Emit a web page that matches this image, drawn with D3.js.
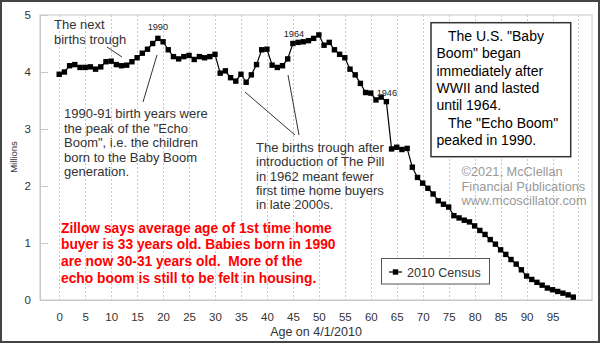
<!DOCTYPE html>
<html>
<head>
<meta charset="utf-8">
<script src="https://cdn.jsdelivr.net/npm/d3@7"></script>
<style>
  html, body { margin: 0; padding: 0; background: #fff; }
  svg { display: block; font-family: Arial, "Liberation Sans", sans-serif; }
</style>
</head>
<body>
<svg id="chart" width="600" height="343"></svg>
<script>
// US population by single year of age, 2010 Census (millions)
const ages = d3.range(0, 100);
const population = [
  3.96, 4.00, 4.11, 4.13, 4.08, 4.08, 4.09, 4.05, 4.09, 4.18,
  4.19, 4.13, 4.11, 4.12, 4.18, 4.25, 4.33, 4.40, 4.50, 4.59,
  4.53, 4.39, 4.27, 4.23, 4.27, 4.29, 4.22, 4.27, 4.25, 4.27,
  4.31, 3.98, 4.02, 3.90, 3.84, 3.96, 3.82, 3.95, 4.13, 4.39,
  4.40, 4.12, 4.08, 4.11, 4.23, 4.50, 4.52, 4.53, 4.55, 4.59,
  4.65, 4.47, 4.52, 4.39, 4.31, 4.25, 4.05, 3.95, 3.80, 3.64,
  3.63, 3.51, 3.56, 3.48, 2.65, 2.68, 2.64, 2.66, 2.33, 2.15,
  2.05, 1.96, 1.86, 1.74, 1.68, 1.63, 1.48, 1.44, 1.40, 1.37,
  1.30, 1.22, 1.15, 1.06, 0.98, 0.88, 0.80, 0.71, 0.63, 0.53,
  0.42, 0.36, 0.31, 0.26, 0.21, 0.18, 0.15, 0.12, 0.09, 0.05
];
const xTicks = d3.range(0, 100, 5);
const gridAges = d3.range(0, 101, 5);
const yTicks = [0, 1, 2, 3, 4, 5];
const seriesName = "2010 Census";

// Annotation texts
const yearLabels = [
  { text: "1990", age: 19, value: 4.59 },
  { text: "1964", age: 45.5, value: 4.50 },
  { text: "1946", age: 63, value: 3.48 }
];
const troughNote = ["The next", "births trough"];
const echoNote = ["1990-91 birth years were", "the peak of the \"Echo", "Boom\", i.e. the children", "born to the Baby Boom", "generation."];
const pillNote = ["The births trough after", "introduction of The Pill", "in 1962 meant fewer", "first time home buyers", "in late 2000s."];
const boxNote = ["   The U.S. \"Baby", "Boom\" began", "immediately after", "WWII and lasted", "until 1964.", "   The \"Echo Boom\"", "peaked in 1990."];
const creditNote = ["\u00A92021, McClellan", "Financial Publications", "www.mcoscillator.com"];
const zillowNote = ["Zillow says average age of 1st time home", "buyer is 33 years old. Babies born in 1990", "are now 30-31 years old.  More of the", "echo boom is still to be felt in housing."];

const svg = d3.select("#chart");
const W = 600, H = 343;
const plot = { left: 40, right: 592, top: 15, bottom: 300 };

const x = d3.scaleLinear().domain([-3.7, 102.6]).range([plot.left, plot.right]);
const y = d3.scaleLinear().domain([0, 5]).range([plot.bottom, plot.top]);

svg.append("rect").attr("x", 0).attr("y", 0).attr("width", W).attr("height", H).attr("fill", "#fff");

// plot frame
svg.append("rect")
  .attr("x", plot.left).attr("y", plot.top)
  .attr("width", plot.right - plot.left).attr("height", plot.bottom - plot.top)
  .attr("fill", "none").attr("stroke", "#c8c8c8").attr("stroke-width", 1);

// dotted vertical gridlines
svg.append("g").selectAll("line").data(gridAges).join("line")
  .attr("x1", d => Math.round(x(d)) + 0.5).attr("x2", d => Math.round(x(d)) + 0.5)
  .attr("y1", plot.top).attr("y2", plot.bottom)
  .attr("stroke", "#c8c8c8").attr("stroke-dasharray", "2,2");

// x axis
const xAxis = svg.append("g").attr("transform", `translate(0,${plot.bottom})`)
  .call(d3.axisBottom(x).tickValues(xTicks).tickSize(0).tickPadding(12.5));
xAxis.select(".domain").attr("stroke", "#c8c8c8");
xAxis.selectAll("text").attr("font-size", 11.5).attr("fill", "#333").attr("font-family", "Arial, 'Liberation Sans', sans-serif");

// y axis with inward ticks
const yAxis = svg.append("g").attr("transform", `translate(${plot.left},0)`)
  .call(d3.axisLeft(y).tickValues(yTicks).tickSize(-8).tickPadding(9).tickFormat(d3.format("d")));
yAxis.select(".domain").attr("stroke", "#c8c8c8");
yAxis.selectAll(".tick line").attr("stroke", "#c8c8c8");
yAxis.selectAll("text").attr("font-size", 11.5).attr("fill", "#333").attr("font-family", "Arial, 'Liberation Sans', sans-serif");

// axis titles
svg.append("text").attr("x", 316).attr("y", 336).attr("text-anchor", "middle")
  .attr("font-size", 12.5).attr("fill", "#333").text("Age on 4/1/2010");
svg.append("text").attr("transform", "translate(17,157) rotate(-90)").attr("text-anchor", "middle")
  .attr("font-size", 9.5).attr("fill", "#333").text("Millions");

// helper for multi-line text blocks
function block(lines, x0, y0, dy, attrs) {
  const t = svg.append("text").attr("x", x0).attr("y", y0).attr("xml:space", "preserve");
  Object.entries(attrs).forEach(([k, v]) => t.attr(k, v));
  lines.forEach((s, i) => t.append("tspan").attr("x", x0).attr("y", y0 + i * dy).text(s));
  return t;
}

// pointer lines
const pointers = [
  [107, 47, 122, 57],
  [157, 55, 143, 102],
  [245, 92, 295, 135],
  [288, 75, 299, 135]
];
svg.append("g").selectAll("line").data(pointers).join("line")
  .attr("x1", d => d[0]).attr("y1", d => d[1]).attr("x2", d => d[2]).attr("y2", d => d[3])
  .attr("stroke", "#333").attr("stroke-width", 1);

// annotation texts
const noteStyle = { "font-size": 13, fill: "#333" };
block(troughNote, 54, 28.5, 15.6, noteStyle);
block(echoNote, 64, 118.3, 14.4, noteStyle);
block(pillNote, 256, 151.7, 14.4, noteStyle);
block(creditNote, 461.5, 176, 14.5, { "font-size": 12.8, fill: "#999" });
block(zillowNote, 61, 232.5, 16.7, { "font-size": 13.8, "font-weight": "bold", fill: "#ff0000" });

// data line and square markers
const line = d3.line().x((d, i) => x(ages[i])).y(d => y(d));
svg.append("path").datum(population).attr("d", line)
  .attr("fill", "none").attr("stroke", "#000").attr("stroke-width", 1.2);
svg.append("g").selectAll("rect").data(population).join("rect")
  .attr("x", (d, i) => x(ages[i]) - 2.7).attr("y", d => y(d) - 2.7)
  .attr("width", 5.4).attr("height", 5.4).attr("fill", "#000");

// year labels above points
svg.append("g").selectAll("text").data(yearLabels).join("text")
  .attr("x", d => d.text === "1946" ? x(d.age) + 0.5 : x(d.age) + (d.text === "1964" ? -1.5 : 0))
  .attr("y", d => d.text === "1946" ? y(d.value) - 6 : y(d.value) - (d.text === "1964" ? 7 : 8))
  .attr("text-anchor", "middle").attr("font-size", 9.2).attr("fill", "#222")
  .text(d => d.text);

// boxed note
svg.append("rect").attr("x", 431).attr("y", 22.7).attr("width", 139.7).attr("height", 134)
  .attr("fill", "#fff").attr("stroke", "#333").attr("stroke-width", 1.5);
block(boxNote, 436.5, 40.7, 17.4, { "font-size": 14, fill: "#000" });

// legend
const lg = svg.append("g");
lg.append("rect").attr("x", 381.5).attr("y", 258.5).attr("width", 108).attr("height", 25.5)
  .attr("fill", "#fff").attr("stroke", "#555").attr("stroke-width", 1);
lg.append("line").attr("x1", 389).attr("x2", 402).attr("y1", 272).attr("y2", 272)
  .attr("stroke", "#000").attr("stroke-width", 1.2);
lg.append("rect").attr("x", 392.8).attr("y", 269.3).attr("width", 5.4).attr("height", 5.4).attr("fill", "#000");
lg.append("text").attr("x", 407).attr("y", 276.5).attr("font-size", 12.5).attr("fill", "#333").text(seriesName);

// outer frame
svg.append("rect").attr("x", 1).attr("y", 1).attr("width", W - 2).attr("height", H - 2)
  .attr("fill", "none").attr("stroke", "#444").attr("stroke-width", 2);
</script>
</body>
</html>
